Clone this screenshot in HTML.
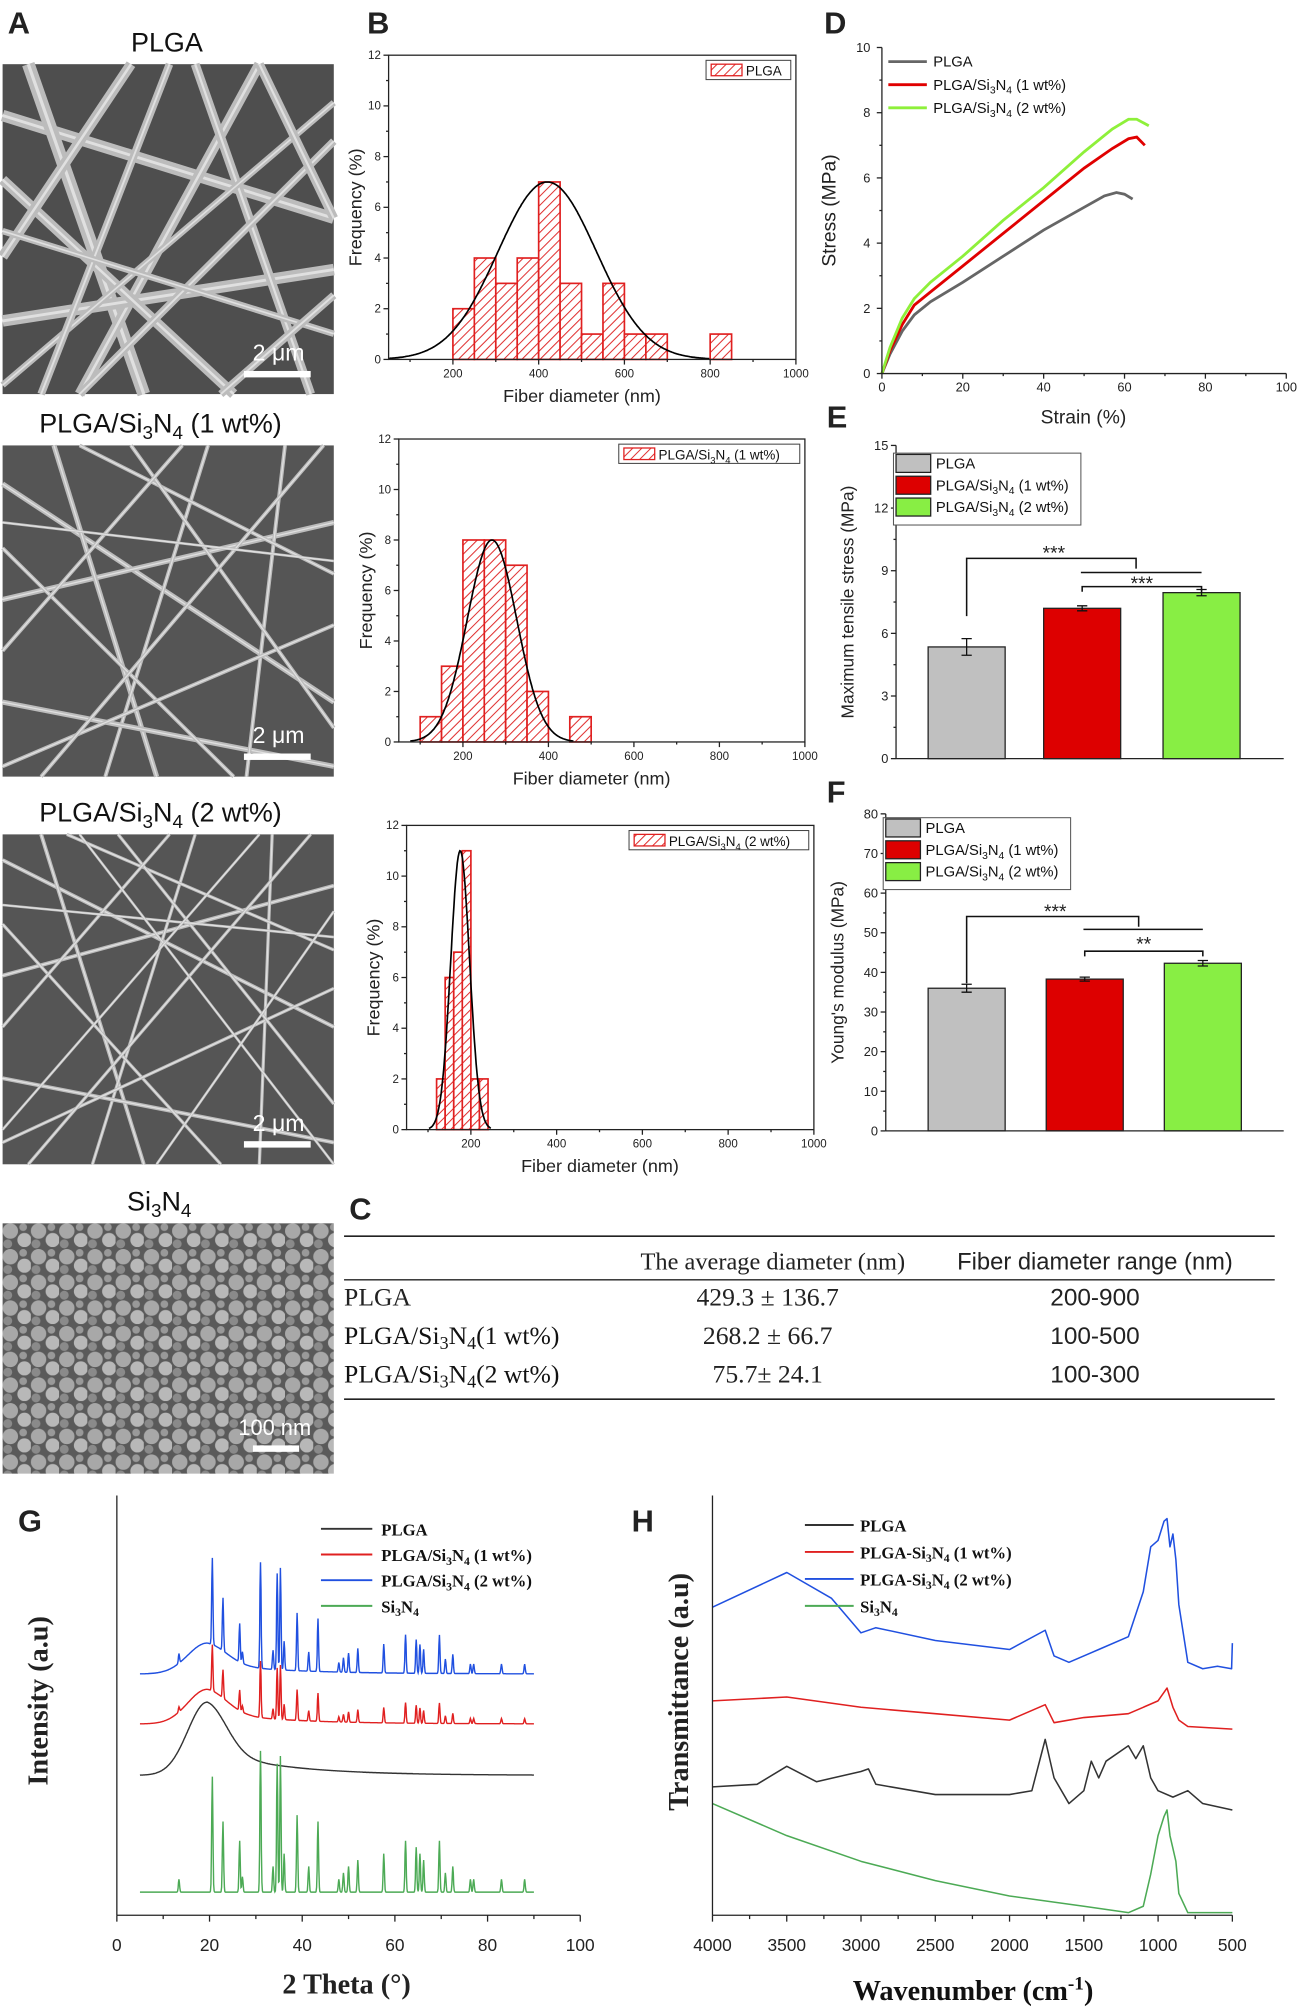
<!DOCTYPE html>
<html><head><meta charset="utf-8">
<style>
html,body{margin:0;padding:0;background:#fff;}
svg{display:block;font-family:"Liberation Sans",sans-serif;}
.serif{font-family:"Liberation Serif",serif;}
</style></head>
<body>
<svg id="fig" width="1303" height="2016" viewBox="0 0 1015 1570.5" xmlns="http://www.w3.org/2000/svg">
<defs>
<pattern id="hatch" patternUnits="userSpaceOnUse" width="5" height="5" patternTransform="rotate(45)">
<rect width="5" height="5" fill="#fff"/><line x1="0" y1="0" x2="0" y2="5" stroke="#e03030" stroke-width="1.6"/>
</pattern>
<pattern id="grain" patternUnits="userSpaceOnUse" width="22" height="20">
<rect width="22" height="20" fill="#5a5a5a"/>
<circle cx="6" cy="6" r="6" fill="#a8a8a8"/><circle cx="17" cy="13" r="5.5" fill="#b8b8b8"/><circle cx="4" cy="16" r="3.5" fill="#8a8a8a"/><circle cx="16" cy="3" r="3" fill="#999"/>
</pattern>
</defs>
<g id="root"></g>
</svg>
<script>
// ---------- data ----------
const h1Bins=[200,250,300,350,400,450,500,550,600,650,800];
const h1Vals=[2,4,3,4,7,3,1,3,1,1,1];
const h1Fit=[420,115,7];
const h2Bins=[100,150,200,250,300,350,450];
const h2Vals=[1,3,8,8,7,2,1];
const h2Fit=[268,58,8];
const h3Bins=[120,140,160,180,200,220];
const h3Vals=[2,6,7,11,2,2];
const h3Fit=[175,22,11];

const dStrainPLGA=[0,2,5,8,12,20,30,40,50,55,58,60,62];
const dStressPLGA=[0,0.6,1.3,1.8,2.2,2.8,3.6,4.4,5.1,5.45,5.55,5.5,5.35];
const dStrain1=[0,2,5,8,12,20,30,40,50,57,61,63,65];
const dStress1=[0,0.7,1.5,2.1,2.5,3.3,4.3,5.3,6.3,6.9,7.2,7.25,7.0];
const dStrain2=[0,2,5,8,12,20,30,40,50,57,61,63,66];
const dStress2=[0,0.8,1.7,2.3,2.8,3.6,4.7,5.7,6.8,7.5,7.8,7.8,7.6];

const barCats=["PLGA","PLGA/Si3N4 (1 wt%)","PLGA/Si3N4 (2 wt%)"];
const eVals=[5.35,7.2,7.95];
const eErr=[0.4,0.12,0.15];
const fVals=[36,38.3,42.3];
const fErr=[1,0.5,0.7];

const xrdPeaks=[13.4,20.6,22.9,26.5,27.1,31,33.7,34.6,35.3,36.1,38.9,41.4,43.4,47.9,48.9,50,52,57.6,62.3,64.6,65.4,66.2,69.6,70.9,72.5,76.3,77,83,88];
const xrdHeights=[10,90,55,40,12,110,20,100,106,30,60,20,55,10,15,20,25,30,40,35,30,25,40,15,20,10,10,10,10];

const ftirWnBlue=[4000,3500,3200,3000,2900,2500,2000,1760,1700,1600,1400,1200,1100,1050,1000,960,940,920,900,880,860,800,700,600,505,500];
const ftirYBlue=[1252,1225,1245,1272,1268,1278,1285,1270,1290,1295,1285,1275,1240,1205,1200,1185,1183,1205,1195,1215,1250,1295,1300,1298,1300,1280];
const ftirWnRed=[4000,3500,3000,2500,2000,1760,1700,1500,1200,1100,1000,940,900,860,800,500];
const ftirYRed=[1325,1322,1330,1335,1340,1328,1342,1338,1335,1330,1325,1315,1330,1340,1345,1347];
const ftirWnBlack=[4000,3700,3500,3300,3000,2950,2900,2500,2000,1850,1760,1700,1600,1500,1450,1400,1350,1200,1150,1100,1050,1000,900,800,700,500];
const ftirYBlack=[1392,1390,1376,1388,1380,1378,1390,1398,1398,1395,1355,1385,1405,1395,1372,1385,1372,1360,1370,1360,1385,1395,1400,1395,1405,1410];
const ftirWnGreen=[4000,3500,3000,2500,2000,1500,1200,1100,1050,1000,960,940,920,900,880,860,800,700,500];
const ftirYGreen=[1405,1430,1450,1465,1477,1485,1490,1485,1460,1430,1415,1410,1430,1440,1450,1475,1490,1490,1490];

// ---------- helpers ----------
const NS="http://www.w3.org/2000/svg";
const root=document.getElementById('root');
function mk(tag,attrs,parent){const e=document.createElementNS(NS,tag);for(const k in attrs)e.setAttribute(k,attrs[k]);(parent||root).appendChild(e);return e;}
function lin(d0,d1,r0,r1){return v=>r0+(v-d0)*(r1-r0)/(d1-d0);}
function txt(x,y,s,o,parent){o=o||{};const e=mk('text',Object.assign({x:x,y:y,'font-size':o.fs||11,fill:o.fill||'#222','text-anchor':o.a||'middle'},o.extra||{}),parent);e.textContent=s;return e;}
function sub(x,y,parts,o,parent){const e=mk('text',{x:x,y:y,'font-size':o.fs,fill:'#111','text-anchor':o.a||'start','font-weight':o.fw||'normal','class':o.cls||''},parent);parts.forEach(p=>{const a={};if(p[1])a.dy=p[1];if(p[2])a['font-size']=o.fs*0.7;const t=mk('tspan',a,e);t.textContent=p[0];});return e;}
function si(pre,post,d){return [[pre],["3",d,1],["N",-d],["4",d,1],[post,-d]];}

// ---------- panel letters ----------
[["A",6,26],["B",286,26],["D",642,26],["E",644,333],["F",644,625],["C",272,950],["G",14,1193],["H",492,1193]].forEach(l=>{
 const e=txt(l[1],l[2],l[0],{fs:24,a:'start',extra:{'font-weight':'bold'}});
 
 
});

// ---------- SEM images ----------
const semBoxes=[[2,50,258,257],[2,347,258,258],[2,650,258,257]];
const fiberSets=[
 [[0,40,258,120,9],[20,0,110,257,10],[60,257,200,0,8],[0,200,258,160,9],[150,0,240,257,7],[0,90,180,257,8],[258,60,60,257,6],[100,0,0,150,8],[0,250,258,30,5],[200,0,258,120,7],[30,257,130,0,6],[0,130,258,210,5],[170,257,258,180,6]],
 [[0,30,258,200,4],[0,120,258,60,4],[40,0,120,258,4],[160,0,80,258,3],[0,200,258,250,4],[220,0,190,258,3],[0,80,180,258,3],[258,100,60,0,3],[0,250,258,140,3],[100,0,258,220,3],[0,160,140,0,3],[30,258,250,0,3],[0,60,258,90,2]],
 [[0,20,258,150,3],[0,110,258,40,3],[30,0,110,257,3],[150,0,70,257,2.5],[0,190,258,240,3],[210,0,200,257,2.5],[0,70,170,257,2.5],[258,90,50,0,2.5],[0,240,258,120,2.5],[90,0,258,210,2.5],[0,150,130,0,2.5],[20,257,240,0,2.5],[0,55,258,80,2],[60,0,258,257,2],[0,230,200,0,2],[120,257,258,60,2]]
];
semBoxes.forEach((b,i)=>{
 const g=mk('g',{transform:`translate(${b[0]},${b[1]})`});
 
 
 mk('rect',{width:b[2],height:b[3],fill:i==0?'#4e4e4e':'#555'},g);
 fiberSets[i].forEach(f=>{mk('line',{x1:f[0],y1:f[1],x2:f[2],y2:f[3],stroke:'#bcbcbc','stroke-width':f[4]},g);mk('line',{x1:f[0],y1:f[1],x2:f[2],y2:f[3],stroke:'#e0e0e0','stroke-width':Math.max(1,f[4]/4)},g);});
 const sb=txt(215,b[3]-26,'2 μm',{fs:18,fill:'#fff',extra:{}},g);
 
 
 mk('rect',{x:188,y:b[3]-18,width:52,height:5,fill:'#fff'},g);
});
{const g=mk('g',{transform:'translate(2,953)'});
 
 
 mk('rect',{width:258,height:195,fill:'url(#grain)'},g);
 const t=txt(212,165,'100 nm',{fs:17,fill:'#fff'},g);
 
 
 mk('rect',{x:195,y:173,width:36,height:5,fill:'#fff'},g);}
[[130,40,[["PLGA"]]],[125,337,si("PLGA/Si"," (1 wt%)",5)],[125,640,si("PLGA/Si"," (2 wt%)",5)],[124,943,si("Si","",5)]].forEach((s,i)=>{
 const e=sub(s[0],s[1],s[2],{fs:21,a:'middle'});
 
 
});

// ---------- histograms ----------
function hist(cfg){
 const g=mk('g',{});
 
 
 const X=lin(0,1000,cfg.z,cfg.x1),Y=lin(0,12,cfg.y0,cfg.y1);
 const x0=X(50);
 cfg.bins.forEach((b,i)=>{
  const r=mk('rect',{x:X(b),y:Y(cfg.vals[i]),width:X(b+cfg.w)-X(b),height:Y(0)-Y(cfg.vals[i]),fill:'url(#hatch)',stroke:'#e02020','stroke-width':1.3},g);
  
  
 });
 let d='';const [m,s,a]=cfg.fit;
 for(let v=Math.max(50,m-3.3*s);v<=m+3.3*s;v+=2){d+=(d?'L':'M')+X(v).toFixed(1)+','+Y(a*Math.exp(-0.5*((v-m)/s)**2)).toFixed(1);}
 const p=mk('path',{d:d,fill:'none',stroke:'#000','stroke-width':1.3},g);
 
 
 mk('rect',{x:x0,y:cfg.y1,width:cfg.x1-x0,height:cfg.y0-cfg.y1,fill:'none',stroke:'#222','stroke-width':1},g);
 for(let v=100;v<=1000;v+=100){mk('line',{x1:X(v),x2:X(v),y1:cfg.y0,y2:cfg.y0+(v%200?2:4),stroke:'#222'},g);if(v%200==0){const t=txt(X(v),cfg.y0+14,v,{fs:9},g);}}
 for(let v=0;v<=12;v++){mk('line',{x1:x0-(v%2?2:4),x2:x0,y1:Y(v),y2:Y(v),stroke:'#222'},g);if(v%2==0){const t=txt(x0-6,Y(v)+3,v,{fs:9,a:'end'},g);}}
 const xt=txt((x0+cfg.x1)/2-8,cfg.y0+33,'Fiber diameter (nm)',{fs:14},g);
 
 
 const yt=txt(0,0,'Frequency (%)',{fs:14,extra:{transform:`translate(${x0-21},${(cfg.y0+cfg.y1)/2}) rotate(-90)`}},g);
 
 
 const lg=mk('g',{},g);
 
 
 mk('rect',{x:cfg.lx,y:cfg.y1+4,width:cfg.x1-4-cfg.lx,height:15,fill:'#fff',stroke:'#444','stroke-width':0.8},lg);
 mk('rect',{x:cfg.lx+4,y:cfg.y1+7,width:24,height:9,fill:'url(#hatch)',stroke:'#e02020'},lg);
 sub(cfg.lx+31,cfg.y1+16,cfg.leg,{fs:10.5},lg);
}
hist({name:'histogram-plga',z:286,x1:620,y0:280,y1:43,bins:h1Bins,vals:h1Vals,w:50,fit:h1Fit,lx:550,leg:[["PLGA"]]});
hist({name:'histogram-1wt',z:294,x1:627,y0:578,y1:342,bins:h2Bins,vals:h2Vals,w:50,fit:h2Fit,lx:482,leg:si("PLGA/Si"," (1 wt%)",3)});
hist({name:'histogram-2wt',z:300,x1:634,y0:880,y1:643,bins:h3Bins,vals:h3Vals,w:20,fit:h3Fit,lx:490,leg:si("PLGA/Si"," (2 wt%)",3)});

// ---------- table C ----------
{const g=mk('g',{});
 
 
 mk('line',{x1:268,x2:993,y1:963,y2:963,stroke:'#222','stroke-width':1.3},g);
 mk('line',{x1:268,x2:993,y1:997,y2:997,stroke:'#222','stroke-width':1},g);
 mk('line',{x1:268,x2:993,y1:1090,y2:1090,stroke:'#222','stroke-width':1.3},g);
 const h1=txt(602,989,'The average diameter (nm)',{fs:19,extra:{'class':'serif'}},g);
 
 const h2=txt(853,989,'Fiber diameter range (nm)',{fs:18.5},g);
 
 const rows=[["PLGA","429.3  ± 136.7","200-900",1017],["PLGA/Si3N4(1 wt%)","268.2  ± 66.7","100-500",1047],["PLGA/Si3N4(2 wt%)","75.7± 24.1","100-300",1077]];
 rows.forEach((r,i)=>{
  let e;
  if(i==0){e=txt(268,r[3],r[0],{fs:20,a:'start',extra:{'class':'serif'}},g);}
  else{e=sub(268,r[3],si("PLGA/Si","("+(i==1?"1":"2")+" wt%)",4),{fs:20,cls:'serif'},g);}
  
  const a=txt(598,r[3],r[1],{fs:20,extra:{'class':'serif'}},g);
  
  const b=txt(853,r[3],r[2],{fs:19},g);
  
 });}

// ---------- panel D ----------
{const g=mk('g',{});
 
 
 const X=lin(0,100,687,1002),Y=lin(0,10,291,37);
 const series=[[dStrainPLGA,dStressPLGA,'#666','PLGA'],[dStrain1,dStress1,'#e00000','1wt'],[dStrain2,dStress2,'#8ef03a','2wt']];
 series.forEach(s=>{const p=mk('path',{d:s[0].map((v,i)=>(i?'L':'M')+X(v).toFixed(1)+','+Y(s[1][i]).toFixed(1)).join(''),fill:'none',stroke:s[2],'stroke-width':2.2},g);
  });
 mk('line',{x1:687,x2:687,y1:37,y2:291,stroke:'#222'},g);mk('line',{x1:687,x2:1002,y1:291,y2:291,stroke:'#222'},g);
 for(let v=0;v<=100;v+=10){mk('line',{x1:X(v),x2:X(v),y1:291,y2:291+(v%20?2:4),stroke:'#222'},g);if(v%20==0){const t=txt(X(v),305,v,{fs:10},g);}}
 for(let v=0;v<=10;v++){mk('line',{x1:683+(v%2?2:0),x2:687,y1:Y(v),y2:Y(v),stroke:'#222'},g);if(v%2==0){const t=txt(678,Y(v)+3.5,v,{fs:10,a:'end'},g);}}
 const xt=txt(844,330,'Strain (%)',{fs:15},g);
 const yt=txt(0,0,'Stress (MPa)',{fs:15,extra:{transform:'translate(651,164) rotate(-90)'}},g);
 const legs=[["#666",[["PLGA"]]],["#e00000",si("PLGA/Si"," (1 wt%)",3)],["#8ef03a",si("PLGA/Si"," (2 wt%)",3)]];
 legs.forEach((l,i)=>{const y=48+i*18;mk('line',{x1:692,x2:722,y1:y,y2:y,stroke:l[0],'stroke-width':2.2},g);const e=sub(727,y+4,l[1],{fs:11.5},g);});
}

// ---------- bar charts E/F ----------
function bars(cfg){
 const g=mk('g',{});
 
 
 const Y=lin(0,cfg.max,cfg.y0,cfg.y1);
 const cols=['#c0c0c0','#dd0000','#88ee44'];
 cfg.vals.forEach((v,i)=>{
  const x=cfg.bx[i];
  const r=mk('rect',{x:x,y:Y(v),width:60,height:cfg.y0-Y(v),fill:cols[i],stroke:'#222','stroke-width':1},g);
  
  const yt=Y(v+cfg.err[i]),yb=Y(v-cfg.err[i]);
  mk('path',{d:`M${x+30},${yt}V${yb}M${x+26},${yt}H${x+34}M${x+26},${yb}H${x+34}`,stroke:'#111','stroke-width':1,fill:'none'},g);
 });
 mk('line',{x1:cfg.x0,x2:cfg.x0,y1:cfg.y1,y2:cfg.y0,stroke:'#222'},g);mk('line',{x1:cfg.x0,x2:1000,y1:cfg.y0,y2:cfg.y0,stroke:'#222'},g);
 for(let v=0;v<=cfg.max;v+=cfg.step/2){const major=Math.abs(v/cfg.step-Math.round(v/cfg.step))<1e-6;mk('line',{x1:cfg.x0-(major?4:2),x2:cfg.x0,y1:Y(v),y2:Y(v),stroke:'#222'},g);if(major){const t=txt(cfg.x0-6,Y(v)+3.5,v,{fs:10,a:'end'},g);}}
 const yt=txt(0,0,cfg.ytitle,{fs:13.5,extra:{transform:`translate(${cfg.x0-33},${(cfg.y0+cfg.y1)/2}) rotate(-90)`}},g);
 
 const lg=mk('g',{},g);
 mk('rect',{x:cfg.x0-2,y:cfg.ly-8,width:146,height:56,fill:'#fff',stroke:'#555','stroke-width':0.8},lg);
 const labs=[[["PLGA"]],si("PLGA/Si"," (1 wt%)",3),si("PLGA/Si"," (2 wt%)",3)];
 labs.forEach((l,i)=>{const y=cfg.ly+i*17;mk('rect',{x:cfg.x0,y:y-7,width:27,height:14,fill:cols[i],stroke:'#222'},lg);const e=sub(cfg.x0+31,y+4,l,{fs:11.5},lg);});
 const s=cfg.sig,xa=cfg.bx[0]+30,xb=cfg.bx[1]+30,xc=cfg.bx[2]+30,xm=cfg.bx[1]+72;
 mk('path',{d:`M${xa},${s[0]}V${s[1]}H${xm}V${s[1]+8}M${xb-1},${s[2]}H${xc}M${xb},${s[3]+4}V${s[3]}H${xc}V${s[3]+4}`,fill:'none',stroke:'#111','stroke-width':1.2},g);
 const a=txt((xa+xm)/2+2,s[1]+1,'***',{fs:15},g);
 const b=txt((xb+xc)/2,(s[2]+s[3])/2+8,cfg.sig2,{fs:15},g);
}
bars({name:'max-stress-chart',x0:698,y0:591,y1:347,max:15,step:3,vals:eVals,err:eErr,bx:[723,813,906],ytitle:'Maximum tensile stress (MPa)',ly:361,sig:[480,435,446,457],sig2:'***'});
bars({name:'youngs-modulus-chart',x0:690,y0:881,y1:634,max:80,step:10,vals:fVals,err:fErr,bx:[723,815,907],ytitle:"Young's modulus (MPa)",ly:645,sig:[766,714,724,741],sig2:'**'});

// ---------- XRD G ----------
{const g=mk('g',{});
 
 
 const X=lin(0,100,91,452);
 const traces=[['PLGA/Si3N4 (2 wt%)','#2050e0',1304,0.75,24],['PLGA/Si3N4 (1 wt%)','#e02020',1343,0.4,27],['PLGA','#333',1383,0,57],['Si3N4','#4caa55',1474,1,0]];
 traces.forEach((t,k)=>{
  let d='';
  for(let th=5;th<=90;th+=0.1){
   let y=t[2];
   const gs=Math.exp(-0.5*((th-19.5)/4.2)**2);
   y-=th<19.5?t[4]*gs:t[4]*(0.65*gs+0.35*Math.exp(-(th-19.5)/16));
   xrdPeaks.forEach((p,i)=>{y-=t[3]*xrdHeights[i]*Math.exp(-0.5*((th-p)/0.13)**2);});
   d+=(d?'L':'M')+X(th).toFixed(1)+','+y.toFixed(1);
  }
  const p=mk('path',{d:d,fill:'none',stroke:t[1],'stroke-width':1.1},g);
  
 });
 mk('line',{x1:91,x2:91,y1:1165,y2:1492,stroke:'#222'},g);mk('line',{x1:91,x2:452,y1:1492,y2:1492,stroke:'#222'},g);
 for(let v=0;v<=100;v+=10){mk('line',{x1:X(v),x2:X(v),y1:1492,y2:1492+(v%20?3:5),stroke:'#222'},g);if(v%20==0){const t=txt(X(v),1520,v,{fs:13.5},g);}}
 const xt=txt(270,1553,'2 Theta (°)',{fs:22,extra:{'class':'serif','font-weight':'bold'}},g);
 const yt=txt(0,0,'Intensity (a.u)',{fs:22,extra:{'class':'serif','font-weight':'bold',transform:'translate(37,1325) rotate(-90)'}},g);
 const legs=[['#333',[["PLGA"]]],['#e02020',si("PLGA/Si"," (1 wt%)",3)],['#2050e0',si("PLGA/Si"," (2 wt%)",3)],['#4caa55',si("Si","",3)]];
 legs.forEach((l,i)=>{const y=1191+i*20;mk('line',{x1:250,x2:290,y1:y,y2:y,stroke:l[0],'stroke-width':1.5},g);const e=sub(297,y+5,l[1],{fs:13,fw:'bold',cls:'serif'},g);});
}

// ---------- FTIR H ----------
{const g=mk('g',{});
 
 
 const X=lin(4000,500,555,960);
 [[ftirWnBlue,ftirYBlue,'#2050e0'],[ftirWnRed,ftirYRed,'#e02020'],[ftirWnBlack,ftirYBlack,'#333'],[ftirWnGreen,ftirYGreen,'#4caa55']].forEach((s,k)=>{
  const p=mk('path',{d:s[0].map((w,i)=>(i?'L':'M')+X(w).toFixed(1)+','+s[1][i]).join(''),fill:'none',stroke:s[2],'stroke-width':1.2,'stroke-linejoin':'round'},g);
  
 });
 mk('line',{x1:555,x2:555,y1:1165,y2:1492,stroke:'#222'},g);mk('line',{x1:555,x2:960,y1:1492,y2:1492,stroke:'#222'},g);
 for(let v=4000;v>=500;v-=250){mk('line',{x1:X(v),x2:X(v),y1:1492,y2:1492+(v%500?3:5),stroke:'#222'},g);if(v%500==0){const t=txt(X(v),1520,v,{fs:13.5},g);}}
 const xt=mk('text',{x:758,y:1558,'font-size':22,'text-anchor':'middle','class':'serif','font-weight':'bold',fill:'#111'},g);
 
 const a=mk('tspan',{},xt);a.textContent='Wavenumber (cm';const b=mk('tspan',{dy:-8,'font-size':15},xt);b.textContent='-1';const c=mk('tspan',{dy:8},xt);c.textContent=')';
 const yt=txt(0,0,'Transmittance (a.u)',{fs:22,extra:{'class':'serif','font-weight':'bold',transform:'translate(536,1318) rotate(-90)'}},g);
 const legs=[['#333',[["PLGA"]]],['#e02020',si("PLGA-Si"," (1 wt%)",3)],['#2050e0',si("PLGA-Si"," (2 wt%)",3)],['#4caa55',si("Si","",3)]];
 legs.forEach((l,i)=>{const y=1188+i*21;mk('line',{x1:627,x2:665,y1:y,y2:y,stroke:l[0],'stroke-width':1.5},g);const e=sub(670,y+5,l[1],{fs:13,fw:'bold',cls:'serif'},g);});
}
</script>
</body></html>
